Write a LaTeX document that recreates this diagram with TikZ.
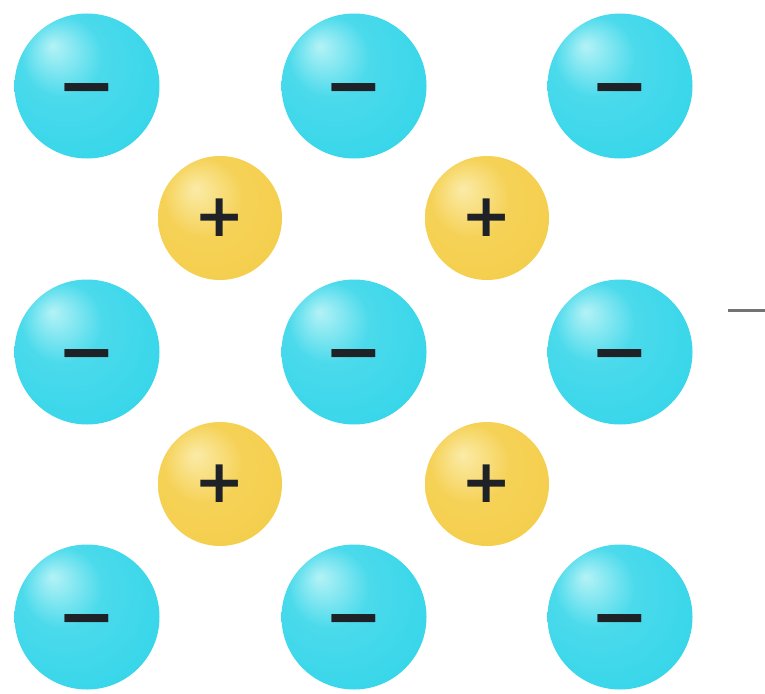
\documentclass[tikz,border=0pt]{standalone}
\usepackage{fontspec}
\newfontfamily\signfont{DejaVu Sans}
\usepackage{xcolor}
\definecolor{anionbase}{HTML}{30D4E9}
\definecolor{anionedge}{HTML}{27C0DD}
\definecolor{anionlight}{HTML}{B4F2F6}
\definecolor{cationbase}{HTML}{F4CD48}
\definecolor{cationedge}{HTML}{EDBE3A}
\definecolor{cationlight}{HTML}{FBEBA8}
\definecolor{signink}{HTML}{1E2226}
\pgfdeclareradialshading{anionball}{\pgfpoint{-12bp}{14bp}}{%
  color(0bp)=(anionlight); color(14bp)=(anionbase!80!anionlight);
  color(40bp)=(anionbase); color(50bp)=(anionedge)}
\pgfdeclareradialshading{cationball}{\pgfpoint{-10bp}{12bp}}{%
  color(0bp)=(cationlight); color(16bp)=(cationbase!85!cationlight);
  color(40bp)=(cationbase); color(50bp)=(cationedge)}

\begin{document}
\begin{tikzpicture}[x=1pt, y=-1pt,
  anion/.style={circle, shading=anionball, minimum size=145pt, inner sep=0pt,
                text height=46pt, text depth=0pt,
                font=\signfont\bfseries\fontsize{70}{70}\selectfont, text=signink},
  cation/.style={circle, shading=cationball, minimum size=124pt, inner sep=0pt,
                 font=\signfont\bfseries\fontsize{60}{60}\selectfont, text=signink}
]
\useasboundingbox (0,0) rectangle (765,693);

% negative ions, 3 x 3 grid
\foreach \row/\y in {1/86, 2/352, 3/617}
  \foreach \col/\x in {1/87, 2/354, 3/620}
    \node[anion] (neg\row\col) at (\x,\y) {−};

% positive ions in the gaps
\foreach \row/\y in {1/218, 2/484}
  \foreach \col/\x in {1/220, 2/487}
    \node[cation] (pos\row\col) at (\x,\y) {+};

% stray mark at the right edge
\coordinate (markL) at (728,310);
\coordinate (markR) at (765,310);
\draw[black!55, line width=3pt] (markL) -- (markR);
\end{tikzpicture}
\end{document}
